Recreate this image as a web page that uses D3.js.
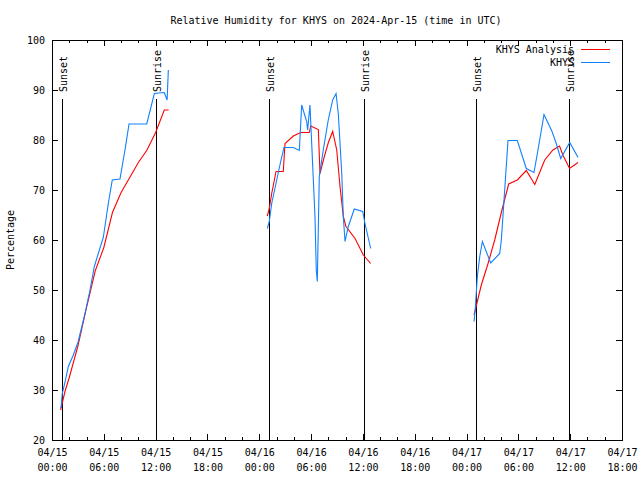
<!DOCTYPE html>
<html><head><meta charset="utf-8">
<script src="https://cdn.jsdelivr.net/npm/d3@7"></script>
<style>
body{margin:0;background:#fff;}
text{font-family:"DejaVu Sans Mono",monospace;font-size:10px;fill:#000;}
</style></head><body>
<svg id="c" width="640" height="480"></svg>
<script>
// ---- data (hours since 04/15 00:00 UTC) ----
const obsHours = [1.04,1.19,1.5,1.89,2.47,3.0,3.5,3.82,4.4,4.9,5.36,5.94,6.52,6.98,7.87,8.45,8.92,10.97,11.85,13.0,13.33,13.47,
  null,
  24.93,25.16,25.44,26.02,26.48,26.86,27.94,28.64,28.91,29.49,29.6,29.87,30.19,30.45,30.6,30.72,30.95,31.41,31.99,32.5,32.89,33.15,33.55,33.73,33.93,34.31,35.0,35.98,36.24,36.9,
  null,
  48.87,49.02,49.25,49.53,49.83,50.8,51.84,52.03,52.34,52.8,53.88,54.92,55.81,56.27,56.97,57.9,58.39,58.9,59.95,60.91];
const obsValues = [26.4,29.3,31.5,34.7,37,39.5,43,45.3,50,54.7,57.3,60.5,67.3,72,72.2,78,83.2,83.2,89.3,89.5,88,94,
  null,
  62.3,63.7,67.3,72,75.7,78.5,78.5,77.9,87,83.7,82,87,74.7,64.7,54,51.7,72.7,78,84,88,89.3,85.3,73.3,64.7,59.7,62.7,66.2,65.7,63.3,58.3,
  null,
  43.7,46.5,52.7,56.7,59.7,55.4,57.3,60,68,79.9,79.9,74.3,73.5,78,85.1,81.7,79.3,76.3,79.5,76.5];

const anaHours = [1.0,1.5,2.0,3.0,4.0,5.0,6.0,7.0,8.0,9.0,10.0,11.0,12.0,13.0,13.5,
  null,
  24.93,25.16,25.44,25.94,26.78,26.98,27.94,28.8,29.79,29.96,30.84,31.03,31.5,32.0,32.5,32.97,33.35,33.73,34.04,35.09,36.05,36.9,
  null,
  48.87,49.71,50.49,51.26,52.1,52.88,53.88,54.92,55.9,57.05,58.0,58.77,59.15,59.93,60.9];
const anaValues = [26.0,29.7,32.5,38.8,46.5,53.8,58.5,65.5,69.5,72.5,75.5,78,81.5,86,86,
  null,
  64.8,66.3,69.3,73.7,73.7,79.3,80.8,81.5,81.5,82.8,82.1,73.3,76.5,79.5,81.7,78,70.7,64.7,62.7,60.3,57,55.3,
  null,
  45,51,55.3,60,66,71.2,72,73.9,71.1,76,78,78.8,77,74.3,75.5];

const sunsetHours = [1.16, 25.16, 49.1];
const sunriseHours = [12.04, 36.07, 59.9];

const xMajorTicks = [0,6,12,18,24,30,36,42,48,54,60,66];
const xTickDates = ["04/15","04/15","04/15","04/15","04/16","04/16","04/16","04/16","04/17","04/17","04/17","04/17"];
const xTickTimes = ["00:00","06:00","12:00","18:00","00:00","06:00","12:00","18:00","00:00","06:00","12:00","18:00"];
const yTicks = [20,30,40,50,60,70,80,90,100];

const titleText = "Relative Humidity for KHYS on 2024-Apr-15 (time in UTC)";
const seriesNames = ["KHYS Analysis","KHYS"];
const seriesColors = ["#ff0000","#1080ff"];

// ---- chart ----
const L=52,R=622,T=40,B=440;
const svg=d3.select("#c");
const x=d3.scaleLinear().domain([0,66]).range([L,R]);
const y=d3.scaleLinear().domain([20,100]).range([B,T]);

const xMinor = d3.range(0,67,2).filter(h=>h%6!==0);

function styleAxis(g){g.select(".domain").remove();g.selectAll("line").attr("stroke","#000").attr("shape-rendering","crispEdges");}

// bottom major with labels
svg.append("g").attr("transform",`translate(0,${B})`)
 .call(d3.axisBottom(x).tickValues(xMajorTicks).tickSizeInner(-6).tickSizeOuter(0).tickPadding(8).tickFormat(()=>""))
 .call(styleAxis)
 .call(g=>{g.selectAll(".tick text").each(function(d,i){
    const t=d3.select(this); t.attr("y",16);
    t.append("tspan").attr("x",0).attr("dy",0).text(xTickDates[i]);
    t.append("tspan").attr("x",0).attr("dy",15).text(xTickTimes[i]);
 });});
svg.append("g").attr("transform",`translate(0,${B})`)
 .call(d3.axisBottom(x).tickValues(xMinor).tickSizeInner(-3).tickSizeOuter(0).tickFormat(()=>"")).call(styleAxis);
// top mirror
svg.append("g").attr("transform",`translate(0,${T})`)
 .call(d3.axisTop(x).tickValues(xMajorTicks).tickSizeInner(-6).tickSizeOuter(0).tickFormat(()=>"")).call(styleAxis);
svg.append("g").attr("transform",`translate(0,${T})`)
 .call(d3.axisTop(x).tickValues(xMinor).tickSizeInner(-3).tickSizeOuter(0).tickFormat(()=>"")).call(styleAxis);
// left
svg.append("g").attr("transform",`translate(${L},0)`)
 .call(d3.axisLeft(y).tickValues(yTicks).tickSizeInner(-6).tickSizeOuter(0).tickPadding(7).tickFormat(d3.format("d")))
 .call(styleAxis).call(g=>g.selectAll("text").attr("dy","0.35em"));
// right mirror
svg.append("g").attr("transform",`translate(${R},0)`)
 .call(d3.axisRight(y).tickValues(yTicks).tickSizeInner(-6).tickSizeOuter(0).tickFormat(()=>"")).call(styleAxis);

// border
svg.append("rect").attr("x",L+0.5).attr("y",T+0.5).attr("width",R-L).attr("height",B-T)
 .attr("fill","none").attr("stroke","#000").attr("shape-rendering","crispEdges");

// sunset / sunrise
function sunLines(hrs,label){
  hrs.forEach(h=>{
    const px=Math.round(x(h))+0.5;
    svg.append("line").attr("x1",px).attr("x2",px).attr("y1",y(88.2)).attr("y2",B)
      .attr("stroke","#000").attr("stroke-width",1).attr("shape-rendering","crispEdges");
    svg.append("text").attr("transform",`translate(${px+4},92) rotate(-90)`)
      .attr("text-anchor","start").text(label);
  });
}
sunLines(sunsetHours,"Sunset");
sunLines(sunriseHours,"Sunrise");

// series
function drawSeries(hrs,vals,color){
  const pts=hrs.map((h,i)=>[h,vals[i]]);
  const line=d3.line().defined(d=>d[0]!==null&&d[1]!==null).x(d=>x(d[0])).y(d=>y(d[1]));
  svg.append("path").datum(pts).attr("d",line).attr("fill","none")
    .attr("stroke",color).attr("stroke-width",1.1);
}
drawSeries(anaHours,anaValues,seriesColors[0]);
drawSeries(obsHours,obsValues,seriesColors[1]);

// title & labels
svg.append("text").attr("x",336).attr("y",23.5).attr("text-anchor","middle").text(titleText);
svg.append("text").attr("transform","translate(14,240) rotate(-90)").attr("text-anchor","middle").text("Percentage");

// legend
seriesNames.forEach((n,i)=>{
  const ly=49.5+i*13;
  svg.append("text").attr("x",574).attr("y",ly+3.5).attr("text-anchor","end").text(n);
  svg.append("line").attr("x1",581).attr("x2",610).attr("y1",ly).attr("y2",ly)
    .attr("stroke",seriesColors[i]).attr("shape-rendering","crispEdges");
});
</script></body></html>
